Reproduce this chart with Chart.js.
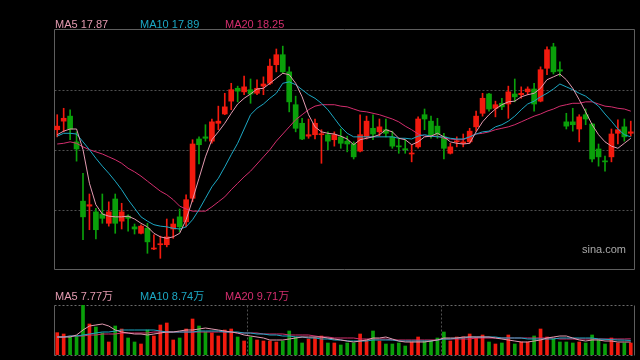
<!DOCTYPE html>
<html>
<head>
<meta charset="utf-8">
<script src="https://cdn.jsdelivr.net/npm/chart.js@4.4.0/dist/chart.umd.min.js"></script>
<style>
  html, body { margin: 0; padding: 0; background: #000; }
  #wrap { position: relative; width: 640px; height: 360px; overflow: hidden; background: #000;
    font-family: "Liberation Sans", Arial, "Noto Sans CJK SC", sans-serif; }
  canvas { position: absolute; left: 0; }
  #kline { top: 0; }
  #vol { top: 280px; }
  .lbl { position: absolute; font-size: 11px; line-height: 12px; white-space: nowrap; }
  .ma5 { color: #e39ab0; }
  .ma10 { color: #1ca8c4; }
  .ma20 { color: #d42e6e; }
  #sina { left: 582px; top: 243px; color: #a8a8a8; font-size: 11px; }
</style>
</head>
<body>
<div id="wrap">
  <canvas id="kline" width="640" height="280"></canvas>
  <canvas id="vol" width="640" height="80"></canvas>
  <div class="lbl ma5" style="left:55px;top:18px">MA5 17.87</div>
  <div class="lbl ma10" style="left:140px;top:18px">MA10 17.89</div>
  <div class="lbl ma20" style="left:225px;top:18px">MA20 18.25</div>
  <div class="lbl" id="sina">sina.com</div>
  <div class="lbl ma5" style="left:55px;top:290px">MA5 7.77万</div>
  <div class="lbl ma10" style="left:140px;top:290px">MA10 8.74万</div>
  <div class="lbl ma20" style="left:225px;top:290px">MA20 9.71万</div>
</div>
<script>
// daily k-line, prices in yuan
const OPEN = [17.99,18.11,18.18,17.82,16.99,16.92,16.84,16.81,16.68,17.02,
  16.71,16.78,16.63,16.54,16.61,16.32,16.38,16.38,16.60,16.77,
  16.70,17.03,17.86,17.89,17.83,18.08,18.21,18.39,18.57,18.52,
  18.55,18.50,18.60,18.64,18.90,19.04,18.80,18.34,18.08,17.90,
  17.92,17.92,17.92,17.85,17.89,17.83,17.79,17.69,17.89,18.01,
  17.96,17.99,17.89,17.76,17.72,17.65,17.75,18.20,18.11,18.04,
  17.89,17.66,17.82,17.80,17.82,18.03,18.22,18.49,18.29,18.36,
  18.35,18.49,18.48,18.52,18.56,18.39,18.85,19.15,18.83,18.10,
  18.10,18.00,18.20,18.07,17.72,17.55,17.61,17.94,18.03,17.94];
const HIGH = [18.20,18.29,18.27,17.96,17.38,17.09,16.89,17.09,16.98,17.09,
  16.96,16.80,16.67,16.66,16.68,16.52,16.50,16.74,16.74,16.88,
  17.08,17.85,17.89,18.06,18.14,18.32,18.50,18.64,18.60,18.74,
  18.70,18.69,18.73,18.98,19.12,19.16,18.87,18.46,18.15,18.14,
  18.14,17.99,17.96,17.96,18.00,17.90,17.82,18.20,18.18,18.20,
  18.14,18.14,17.97,17.87,17.85,17.78,18.17,18.28,18.18,18.15,
  17.94,17.80,17.89,17.93,18.01,18.25,18.50,18.50,18.39,18.43,
  18.60,18.70,18.59,18.59,18.64,18.87,19.15,19.20,18.94,18.22,
  18.29,18.20,18.28,18.08,17.79,17.62,18.00,18.13,18.14,18.11];
const LOW = [17.89,17.96,17.85,17.55,16.45,16.59,16.46,16.68,16.64,16.54,
  16.60,16.57,16.53,16.53,16.26,16.31,16.19,16.35,16.47,16.56,
  16.63,16.98,17.51,17.83,17.80,17.99,18.20,18.27,18.38,18.48,
  18.36,18.48,18.48,18.62,18.80,18.78,18.24,17.96,17.85,17.87,
  17.86,17.52,17.71,17.76,17.73,17.68,17.58,17.68,17.86,17.85,
  17.90,17.89,17.73,17.66,17.66,17.54,17.73,17.99,17.87,17.87,
  17.58,17.65,17.75,17.75,17.80,17.97,18.18,18.25,18.17,18.27,
  18.15,18.38,18.43,18.48,18.25,18.38,18.76,18.77,18.74,18.00,
  17.97,17.82,18.06,17.54,17.48,17.41,17.54,17.79,17.83,17.90];
const CLOSE = [18.04,18.15,18.00,17.72,16.77,16.94,16.59,16.75,16.84,16.68,
  16.84,16.75,16.60,16.64,16.42,16.33,16.39,16.49,16.67,16.63,
  17.01,17.79,17.78,17.87,18.10,18.11,18.31,18.55,18.53,18.59,
  18.49,18.57,18.63,18.88,19.04,18.80,18.38,18.01,17.86,17.92,
  18.08,17.93,17.83,17.92,17.80,17.79,17.61,17.92,18.11,17.93,
  18.03,17.94,17.76,17.75,17.71,17.66,18.14,18.14,17.92,17.93,
  17.73,17.75,17.83,17.82,17.97,18.18,18.43,18.28,18.34,18.31,
  18.52,18.45,18.50,18.56,18.35,18.83,19.11,18.80,18.81,18.04,
  18.06,18.17,18.14,17.58,17.61,17.54,17.93,17.99,17.89,17.96];

const MA5 = [17.92,17.97,18.00,18.00,17.71,17.24,16.94,16.81,16.78,16.77,
  16.77,16.78,16.74,16.68,16.63,16.54,16.49,16.47,16.49,16.54,
  16.73,17.01,17.31,17.61,17.85,17.96,18.08,18.22,18.35,18.43,
  18.49,18.56,18.57,18.64,18.71,18.78,18.76,18.64,18.45,18.20,
  18.03,17.96,17.94,17.93,17.90,17.86,17.78,17.85,17.87,17.89,
  17.92,17.99,17.96,17.87,17.85,17.78,17.82,17.89,17.90,17.94,
  17.89,17.82,17.80,17.79,17.80,17.96,18.10,18.20,18.28,18.34,
  18.38,18.39,18.45,18.48,18.50,18.57,18.69,18.73,18.77,18.69,
  18.57,18.41,18.24,18.06,17.92,17.82,17.76,17.73,17.80,17.87];
const MA10 = [17.90,17.94,17.94,17.93,17.82,17.71,17.59,17.48,17.38,17.27,
  17.15,17.01,16.89,16.77,16.71,16.66,16.64,16.63,16.61,16.60,
  16.63,16.73,16.87,17.03,17.19,17.31,17.47,17.64,17.80,18.00,
  18.20,18.29,18.35,18.43,18.50,18.64,18.66,18.62,18.55,18.48,
  18.43,18.36,18.27,18.15,18.03,17.94,17.89,17.89,17.89,17.89,
  17.89,17.89,17.89,17.87,17.87,17.86,17.90,17.92,17.90,17.89,
  17.89,17.87,17.86,17.86,17.89,17.93,17.96,17.97,18.03,18.06,
  18.11,18.18,18.27,18.35,18.39,18.45,18.50,18.56,18.63,18.59,
  18.55,18.50,18.46,18.39,18.32,18.21,18.11,18.00,17.92,17.89];
const MA20 = [17.79,17.80,17.82,17.80,17.75,17.71,17.68,17.65,17.61,17.57,
  17.52,17.45,17.40,17.34,17.27,17.20,17.13,17.08,17.01,16.92,
  16.88,16.85,16.85,16.85,16.91,16.98,17.05,17.15,17.24,17.33,
  17.41,17.51,17.61,17.71,17.83,17.93,18.03,18.13,18.20,18.27,
  18.32,18.34,18.34,18.34,18.32,18.31,18.28,18.25,18.24,18.22,
  18.20,18.17,18.14,18.10,18.04,17.99,17.93,17.90,17.90,17.90,
  17.87,17.86,17.85,17.85,17.89,17.93,17.94,17.96,17.99,18.01,
  18.03,18.06,18.10,18.14,18.18,18.21,18.25,18.28,18.32,18.34,
  18.36,18.36,18.38,18.38,18.35,18.32,18.31,18.29,18.28,18.25];

// volume in 万 (10k shares)
const VOL = [13.4,12.6,10.8,11.4,30.0,18.6,16.8,13.2,7.8,17.4,
  15.6,10.2,7.8,6.6,15.0,11.4,18.0,19.2,9.0,10.2,
  15.6,21.6,17.4,13.8,13.2,11.4,15.0,15.6,10.8,8.4,
  10.8,9.0,8.4,8.4,7.8,8.4,14.4,10.8,7.2,9.6,
  10.2,11.4,7.2,7.2,6.0,7.2,7.2,12.6,9.0,14.4,
  8.4,6.6,6.6,7.2,5.4,7.8,10.8,8.4,8.4,10.2,
  13.8,8.4,10.8,10.8,12.6,10.2,12.0,7.8,6.6,7.2,
  12.0,6.6,7.8,7.8,11.4,15.6,10.8,9.6,7.8,7.8,
  7.2,7.8,7.2,12.0,9.0,6.6,10.2,7.2,7.2,7.2];
const VMA5 = [10.8,10.8,10.8,12.0,15.0,17.4,18.0,18.6,17.4,15.0,
  13.8,13.2,12.6,12.6,12.0,12.6,13.2,13.8,13.8,14.4,
  15.0,15.0,15.6,16.2,15.6,15.0,14.4,13.8,13.2,12.0,
  11.4,10.8,10.2,9.0,9.0,9.0,9.6,10.2,10.8,10.8,
  10.8,10.8,10.2,9.6,9.0,8.4,7.8,8.4,9.0,10.2,
  10.2,10.8,9.6,8.4,7.8,7.8,7.8,7.8,8.4,9.0,
  10.2,10.2,10.2,10.8,10.8,10.8,10.8,10.8,10.2,9.6,
  9.0,8.4,7.8,7.8,8.4,9.0,10.2,10.8,11.4,11.4,
  10.2,9.0,8.4,9.0,9.0,8.4,8.4,7.8,7.8,7.77];
const VMA10 = [10.8,10.8,11.4,11.4,12.0,12.6,13.2,13.8,13.8,14.4,
  15.0,15.0,15.0,15.0,15.0,15.0,14.4,13.8,13.8,13.8,
  13.8,13.8,14.4,14.4,14.4,14.4,13.8,13.8,13.8,13.2,
  13.2,12.6,12.6,12.0,12.0,11.4,11.4,10.8,10.8,10.2,
  10.2,9.6,9.6,9.0,9.0,8.4,8.4,8.4,8.4,9.0,
  9.0,9.0,9.0,8.4,8.4,8.4,8.4,8.4,8.4,9.0,
  9.6,9.6,10.2,10.2,10.8,10.8,10.8,10.8,10.8,10.2,
  10.2,10.2,10.2,9.6,9.6,9.6,9.6,9.6,10.2,10.2,
  10.2,10.2,10.2,10.2,9.6,9.4,9.2,9.0,8.9,8.74];
const VMA20 = [10.8,10.8,11.4,11.4,11.4,12.0,12.0,12.6,12.6,12.6,
  13.2,13.2,13.2,13.2,13.2,13.8,13.8,13.8,13.8,13.8,
  13.8,13.8,13.8,13.8,13.8,13.8,13.8,13.8,13.2,13.2,
  13.2,13.2,12.6,12.6,12.6,12.6,12.0,12.0,12.0,12.0,
  11.4,10.8,10.8,10.2,10.2,10.2,10.2,9.6,9.6,9.6,
  9.6,9.6,9.0,9.0,9.0,9.0,9.0,9.0,9.0,9.0,
  9.6,9.6,9.6,9.6,9.6,10.2,10.2,10.2,10.2,10.2,
  10.2,10.2,10.2,10.2,10.2,10.2,10.2,10.2,9.6,9.6,
  9.6,9.6,9.6,9.6,9.6,9.6,9.6,9.6,9.6,9.71];

// first trading day of each new month (volume panel separators)
const MONTH_STARTS = [30, 60];

const PRICE_MIN = 16.04, PRICE_MAX = 19.40;
const VOL_MAX = 30;

const UP = '#f21a0e', DOWN = '#0aa00a';
const C_MA5 = '#e39ab0', C_MA10 = '#1ca8c4', C_MA20 = '#d42e6e';
const FRAME = '#5e5e5e', DOTS = '#505050';

const days = CLOSE.map((_, i) => i);
const candleColors = CLOSE.map((c, i) => c >= OPEN[i] ? UP : DOWN);

function hline(ctx, x1, x2, y) {
  ctx.beginPath(); ctx.moveTo(x1, y); ctx.lineTo(x2, y); ctx.stroke();
}
function vline(ctx, x, y1, y2) {
  ctx.beginPath(); ctx.moveTo(x, y1); ctx.lineTo(x, y2); ctx.stroke();
}

// frame + dotted grid, drawn under the datasets
const framePlugin = {
  id: 'frame',
  beforeDatasetsDraw(chart, args, opts) {
    const { ctx, chartArea: a } = chart;
    const L = Math.round(a.left) + 0.5, R = Math.round(a.right) + 0.5;
    const T = Math.round(a.top) + 0.5, B = Math.round(a.bottom) + 0.5;
    ctx.save();
    ctx.lineWidth = 1;
    ctx.strokeStyle = DOTS;
    ctx.setLineDash([2, 2]);
    (opts.quarters ? [0.25, 0.5, 0.75] : []).forEach(f => {
      hline(ctx, L, R, Math.round(a.top + (a.bottom - a.top) * f) + 1.5);
    });
    if (opts.dottedEdges) {
      ctx.strokeStyle = '#6a6a6a';
      hline(ctx, L, R, T);
      hline(ctx, L, R, B);
      ctx.strokeStyle = DOTS;
      const xs = chart.scales.x;
      (opts.separators || []).forEach(d => {
        const x = Math.round((xs.getPixelForValue(d - 1) + xs.getPixelForValue(d)) / 2) + 0.5;
        vline(ctx, x, T, B);
      });
    }
    ctx.setLineDash([]);
    ctx.strokeStyle = FRAME;
    vline(ctx, L, T, B);
    vline(ctx, R, T, B);
    if (!opts.dottedEdges) {
      hline(ctx, L, R, T);
      hline(ctx, L, R, B);
    }
    ctx.restore();
  }
};

function maLine(label, data, color, yAxis) {
  return {
    type: 'line', label, data, borderColor: color, borderWidth: 1,
    pointRadius: 0, tension: 0, order: 0, yAxisID: yAxis,
  };
}

const baseOptions = (padding, yMax, yMin) => ({
  responsive: false,
  animation: false,
  events: [],
  layout: { padding },
  plugins: { legend: { display: false }, tooltip: { enabled: false } },
  scales: {
    x: { type: 'category', display: false, offset: true },
    y: { display: false, min: yMin, max: yMax },
  },
});

new Chart(document.getElementById('kline'), {
  type: 'bar',
  data: {
    labels: days,
    datasets: [
      maLine('MA5', MA5, C_MA5, 'y'),
      maLine('MA10', MA10, C_MA10, 'y'),
      maLine('MA20', MA20, C_MA20, 'y'),
      {
        label: 'body', data: OPEN.map((o, i) => [o, CLOSE[i]]),
        backgroundColor: candleColors, barThickness: 5, minBarLength: 1,
        grouped: false, borderWidth: 0, order: 1,
      },
      {
        label: 'wick', data: LOW.map((l, i) => [l, HIGH[i]]),
        backgroundColor: candleColors, barThickness: 1,
        grouped: false, borderWidth: 0, order: 2,
      },
    ],
  },
  options: {
    ...baseOptions({ top: 29, bottom: 11, left: 54, right: 6 }, PRICE_MAX, PRICE_MIN),
    plugins: { legend: { display: false }, tooltip: { enabled: false }, frame: { quarters: true } },
  },
  plugins: [framePlugin],
});

new Chart(document.getElementById('vol'), {
  type: 'bar',
  data: {
    labels: days,
    datasets: [
      maLine('MA5', VMA5, C_MA5, 'y'),
      maLine('MA10', VMA10, C_MA10, 'y'),
      maLine('MA20', VMA20, C_MA20, 'y'),
      {
        label: 'vol', data: VOL, backgroundColor: candleColors,
        barThickness: 3, borderWidth: 0, order: 1,
      },
    ],
  },
  options: {
    ...baseOptions({ top: 25, bottom: 5, left: 54, right: 6 }, VOL_MAX, 0),
    plugins: {
      legend: { display: false }, tooltip: { enabled: false },
      frame: { dottedEdges: true, separators: MONTH_STARTS },
    },
  },
  plugins: [framePlugin],
});
</script>
</body>
</html>
